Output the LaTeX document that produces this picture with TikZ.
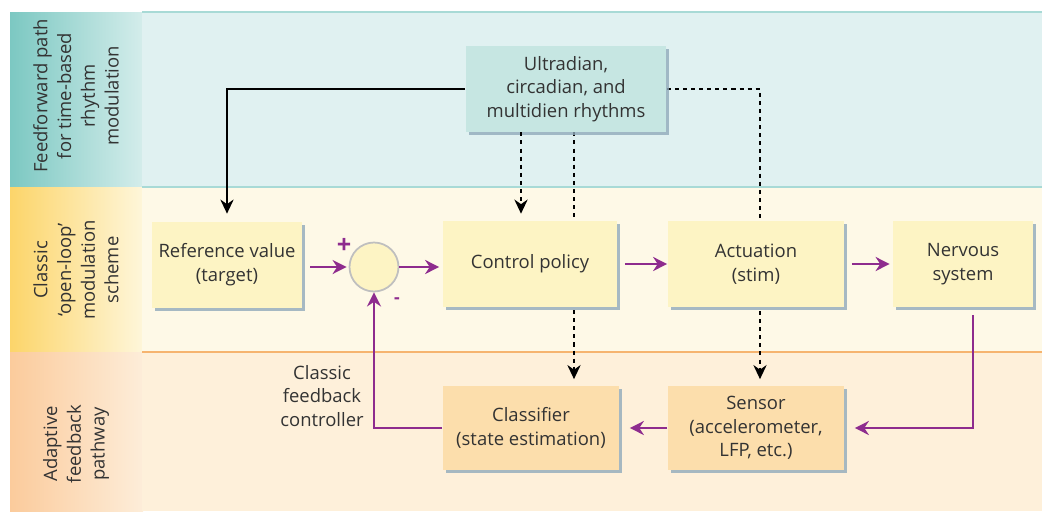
\documentclass[tikz,border=0pt]{standalone}
\usepackage{fontspec}
\setmainfont{Open Sans}
\usetikzlibrary{arrows.meta,shadows,positioning}
\pgfdeclarelayer{bg}
\pgfdeclarelayer{behind}
\pgfsetlayers{bg,behind,main}

\definecolor{txt}{HTML}{333333}
\definecolor{tealbg}{HTML}{E0F1F1}
\definecolor{tealL}{HTML}{7CC8C2}
\definecolor{tealR}{HTML}{D4EDEB}
\definecolor{tealline}{HTML}{A8DAD6}
\definecolor{tealbox}{HTML}{C6E6E2}
\definecolor{yelbg}{HTML}{FEF9E7}
\definecolor{yelL}{HTML}{FCD56A}
\definecolor{yelR}{HTML}{FEF6DA}
\definecolor{yelbox}{HTML}{FDF4C4}
\definecolor{orbg}{HTML}{FEF0DA}
\definecolor{orL}{HTML}{FBCB9C}
\definecolor{orR}{HTML}{FDEDD9}
\definecolor{orline}{HTML}{F6B46F}
\definecolor{orbox}{HTML}{FCDEAC}
\definecolor{flowc}{HTML}{8E2C8E}
\definecolor{shadowc}{HTML}{90AABB}

\begin{document}
\begin{tikzpicture}[
  x=0.02cm, y=-0.02cm,
  font=\fontsize{10.5}{13.5}\selectfont, text=txt,
  boxshadow/.style={drop shadow={shadow xshift=0.06cm, shadow yshift=-0.06cm, fill=shadowc, opacity=0.8}},
  block/.style={rectangle, fill=yelbox, minimum width=3.54cm, minimum height=1.72cm, align=center, boxshadow},
  estim/.style={block, fill=orbox, minimum height=1.7cm},
  rhythm/.style={block, fill=tealbox, minimum width=4.02cm},
  sumnode/.style={circle, draw=black!25, line width=1pt, fill=yelbox, minimum size=0.98cm, inner sep=0pt},
  band/.style={rotate=90, align=center},
  flow/.style={draw=flowc, line width=1.3pt, -{Stealth[length=8pt,width=8pt]}},
  ff/.style={draw=black, line width=1.3pt, -{Stealth[length=8pt,width=7.5pt]}},
  ffdot/.style={ff, dash pattern=on 2.3pt off 2.3pt}
]
\useasboundingbox (0,0) rectangle (1042,511);

% Bands
\begin{pgfonlayer}{bg}
\shade[left color=tealL, right color=tealR] (10,12) rectangle (143,187);
\shade[left color=yelL, right color=yelR] (10,187) rectangle (143,352);
\shade[left color=orL, right color=orR] (10,352) rectangle (143,511);
\fill[tealbg] (142,12) rectangle (1042,187);
\fill[yelbg] (142,187) rectangle (1042,352);
\fill[orbg] (142,352) rectangle (1042,511);
\draw[tealline, line width=1pt] (142,12) -- (1042,12);
\draw[tealline, line width=1pt] (142,187) -- (1042,187);
\draw[orline, line width=1.2pt] (142,352) -- (1042,352);
\end{pgfonlayer}

\node[band] (fflabel) at (76,96) {Feedforward path\\for time-based\\rhythm\\modulation};
\node[band] (olabel) at (76,270) {Classic\\`open-loop'\\modulation\\scheme};
\node[band] (alabel) at (76,444) {Adaptive\\feedback\\pathway};

\node[rhythm] (rhythm) at (566,89) {Ultradian,\\circadian, and\\multidien rhythms};
\node[block, minimum width=3cm] (ref) at (227,265) {Reference value\\(target)};
\node[sumnode] (sum) at (374,267) {};
\node[block, minimum width=3.5cm] (policy) at (530,264) {Control policy};
\node[block] (act) at (756,264) {Actuation\\(stim)};
\node[block, minimum width=2.8cm] (nerv) at (963,264) {Nervous\\system};
\node[estim] (classif) at (531,428) {Classifier\\(state estimation)};
\node[estim] (sensor) at (756,428) {Sensor\\(accelerometer,\\LFP, etc.)};

% Annotations
\node[align=center] (fbtext) at (322,396) {Classic\\feedback\\controller};
\node[text=flowc, font=\bfseries\Large] (plus) at (344,246) {+};
\node[text=flowc, font=\bfseries] (minus) at (397,301) {-};

% Feedforward
\coordinate (tap1) at ([xshift=-0.9cm]rhythm.south);
\coordinate (tap2) at ([xshift=0.16cm]rhythm.south);
\coordinate (tap3) at ([xshift=0.08cm]sensor.north);
\draw[ff, shorten >=0.16cm] (rhythm.west) -| (ref.north);
\draw[ffdot, shorten >=0.14cm] (tap1) -- (tap1 |- policy.north);
\begin{pgfonlayer}{behind}
\draw[ffdot, shorten >=0.12cm] (tap2) -- (tap2 |- classif.north);
\draw[ffdot, shorten >=0.12cm] (rhythm.east) -| (tap3);
\end{pgfonlayer}

% Loop
\draw[flow, shorten <=0.16cm, shorten >=0.04cm] (ref.east |- sum.west) -- (sum.west);
\draw[flow, shorten >=0.06cm] (sum.east) -- (policy.west |- sum.east);
\draw[flow, shorten <=0.14cm] (policy.east) -- (act.west);
\draw[flow, shorten <=0.14cm, shorten >=0.06cm] (act.east) -- (nerv.west);
\draw[flow, shorten <=0.16cm, shorten >=0.2cm] ([xshift=0.2cm]nerv.south) |- (sensor.east);
\draw[flow, shorten >=0.2cm] (sensor.west) -- (classif.east);
\draw[flow] (classif.west) -| (sum.south);
\end{tikzpicture}
\end{document}
